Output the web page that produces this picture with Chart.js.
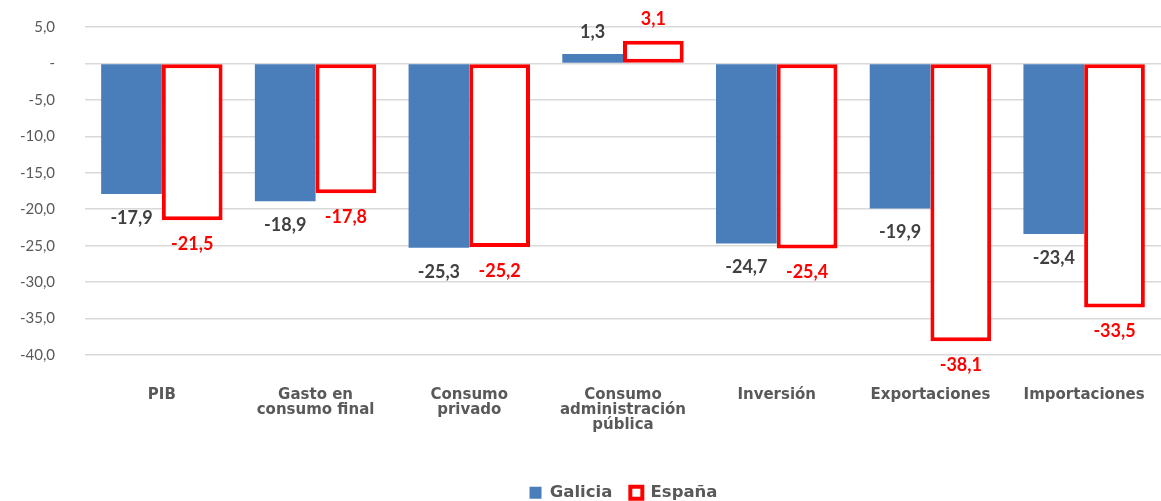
<!DOCTYPE html>
<html>
<head>
<meta charset="utf-8">
<script src="https://cdn.jsdelivr.net/npm/chart.js@4.4.1/dist/chart.umd.min.js"></script>
<style>
  html, body { margin: 0; padding: 0; background: #fff; }
  #wrap { width: 1161px; height: 501px; }
</style>
</head>
<body>
<div id="wrap"><canvas id="pibChart"></canvas></div>
<script>
const categories = [
    "PIB",
    ["Gasto en", "consumo final"],
    ["Consumo", "privado"],
    ["Consumo", "administración", "pública"],
    "Inversión",
    "Exportaciones",
    "Importaciones"
];
const galicia = [-17.9, -18.9, -25.3, 1.3, -24.7, -19.9, -23.4];
const espana = [-21.5, -17.8, -25.2, 3.1, -25.4, -38.1, -33.5];
const yTicks = [5, 0, -5, -10, -15, -20, -25, -30, -35, -40];

function fmt(v) {
    return v.toFixed(1).replace(".", ",");
}

// value under (or over) each bar, plus legend nudge
const valueLabels = {
    id: "valueLabels",
    afterLayout(chart) {
        // legend sits centred under the plot area in the original
        chart.legend.left += 43;
        chart.legend.right += 43;
        chart.legend.top += 10;
        chart.legend.bottom += 10;
    },
    afterDatasetsDraw(chart) {
        const ctx = chart.ctx;
        ctx.save();
        ctx.font = "bold 18px Lato";
        ctx.textAlign = "center";
        ctx.textBaseline = "middle";
        chart.data.datasets.forEach((ds, i) => {
            const meta = chart.getDatasetMeta(i);
            ctx.fillStyle = ds.labelColor;
            meta.data.forEach((bar, j) => {
                const v = ds.data[j];
                const y = v < 0 ? bar.y + 24 : bar.y - 22;
                ctx.fillText(fmt(v), bar.x, y);
            });
        });
        ctx.restore();
    }
};

document.addEventListener("DOMContentLoaded", function () {
    const ctx = document.getElementById("pibChart").getContext("2d");

    new Chart(ctx, {
        type: "bar",
        data: {
            labels: categories,
            datasets: [{
                label: "Galicia",
                data: galicia,
                backgroundColor: "#4a7ebb",
                borderWidth: 0,
                labelColor: "#404040"
            }, {
                label: "España",
                data: espana,
                backgroundColor: "#ffffff",
                borderColor: "#ff0000",
                borderWidth: 4,
                borderSkipped: false,
                labelColor: "#ff0000"
            }]
        },
        plugins: [valueLabels],
        options: {
            responsive: true,
            maintainAspectRatio: false,
            animation: false,
            layout: { padding: { top: 27, right: 0, left: 0, bottom: 0 } },
            datasets: {
                bar: { categoryPercentage: 0.79, barPercentage: 1.0 }
            },
            scales: {
                x: {
                    grid: { display: false },
                    border: { display: false },
                    ticks: {
                        color: "#595959",
                        font: { family: "DejaVu Sans", size: 15, weight: "bold", lineHeight: 1.0 },
                        padding: 25,
                        maxRotation: 0,
                        autoSkip: false
                    },
                    afterFit(scale) {
                        scale.height = 101.5;
                        scale.paddingLeft = 0;
                        scale.paddingRight = 0;
                        scale.paddingTop = 0;
                        scale.paddingBottom = 0;
                    }
                },
                y: {
                    min: -40,
                    max: 5,
                    border: { display: false },
                    grid: { color: "#d9d9d9", lineWidth: 1.5, drawTicks: false },
                    afterBuildTicks(scale) {
                        scale.ticks = yTicks.map(v => ({ value: v }));
                    },
                    ticks: {
                        color: "#595959",
                        font: { family: "Lato", size: 15 },
                        padding: 30,
                        callback: v => v === 0 ? "-" : fmt(v)
                    },
                    afterFit(scale) {
                        scale.width = 85;
                        scale.paddingTop = 0;
                        scale.paddingBottom = 0;
                    }
                }
            },
            plugins: {
                legend: {
                    position: "bottom",
                    labels: {
                        color: "#595959",
                        font: { family: "DejaVu Sans", size: 16.5, weight: "bold" },
                        boxWidth: 12,
                        boxHeight: 12,
                        padding: 18
                    }
                },
                tooltip: { enabled: false }
            }
        }
    });
});
</script>
</body>
</html>
